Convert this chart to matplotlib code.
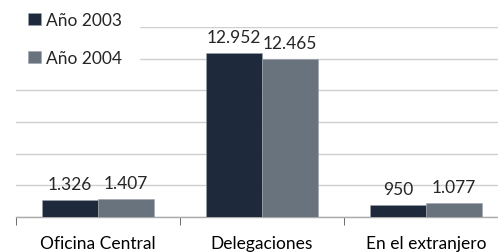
import numpy as np
import matplotlib
matplotlib.use("Agg")
import matplotlib.pyplot as plt

categories = ["Oficina Central", "Delegaciones", "En el extranjero"]
series_names = ["Año 2003", "Año 2004"]
values_2003 = [1326, 12952, 950]
values_2004 = [1407, 12465, 1077]
value_labels_2003 = ["1.326", "12.952", "950"]
value_labels_2004 = ["1.407", "12.465", "1.077"]
colors = ["#1e2a3b", "#69737e"]

plt.rcParams['font.family'] = ['Lato', 'DejaVu Sans']
plt.rcParams['text.color'] = '#262626'

fig = plt.figure(figsize=(4.98, 2.53), dpi=100)
ax = fig.add_axes([16 / 498, 35 / 253, 492 / 498, 190 / 253])

x = np.arange(len(categories))
w = 0.34
series = [values_2003, values_2004]
labels = [value_labels_2003, value_labels_2004]
for i, (vals, labs) in enumerate(zip(series, labels)):
    pos = x + (i - 0.5) * w
    bars = ax.bar(pos, vals, width=w, color=colors[i], edgecolor="#9ea4ab",
                  linewidth=0.4, label=series_names[i], zorder=3)
    for b, t in zip(bars, labs):
        ax.annotate(t, (b.get_x() + b.get_width() / 2, b.get_height()),
                    xytext=(0, 6), textcoords="offset points",
                    ha="center", va="bottom", fontsize=12.5, zorder=4)

ax.set_xlim(-0.5, 2.5)
ax.set_ylim(0, 15000)
ax.set_yticks(np.arange(0, 15001, 2500))
ax.yaxis.grid(True, color="#cfcfcf", linewidth=1)
ax.set_axisbelow(True)
ax.tick_params(axis="y", left=False, labelleft=False)

ax.set_xticks(x)
ax.set_xticklabels(categories, fontsize=12.5)
ax.set_xticks([-0.5, 0.5, 1.5], minor=True)
ax.tick_params(axis="x", which="major", length=0, pad=13)
ax.tick_params(axis="x", which="minor", length=6, color="#555555", direction="out")

for s in ["left", "right", "top"]:
    ax.spines[s].set_visible(False)
ax.spines["bottom"].set_color("#aaaaaa")
ax.spines["bottom"].set_linewidth(1)

leg = ax.legend(loc="upper left", bbox_to_anchor=(-0.01, 1.17), fontsize=12.5,
                frameon=True, facecolor="white", edgecolor="white",
                framealpha=1, fancybox=False, handlelength=0.7, handleheight=0.7,
                handletextpad=0.3, labelspacing=1.25, borderaxespad=0, borderpad=1.0)
leg.set_zorder(5)

fig.savefig("out.png", dpi=100)
